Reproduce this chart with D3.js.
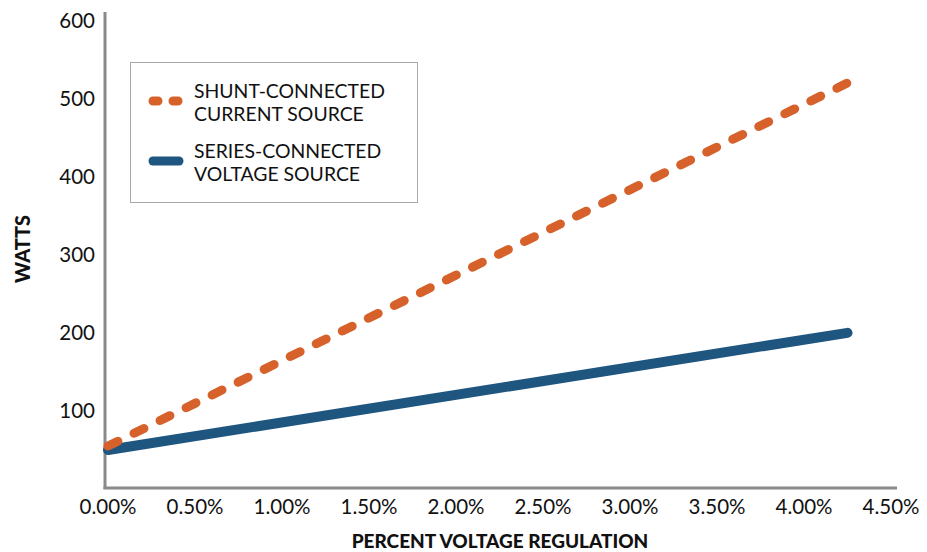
<!DOCTYPE html>
<html>
<head>
<meta charset="utf-8">
<script src="https://cdn.jsdelivr.net/npm/d3@7"></script>
<style>
  html,body{margin:0;padding:0;background:#fff;}
  text{font-family:Lato,'Open Sans',sans-serif;fill:#111;}
</style>
</head>
<body>
<div id="chart"></div>
<script>
// percent voltage regulation (x) vs watts (y)
const xVals = [0, 4.25];
const shunt = [55, 520];
const series = [50, 200];
const xTicks = [0, 0.5, 1, 1.5, 2, 2.5, 3, 3.5, 4, 4.5];
const yTicks = [100, 200, 300, 400, 500, 600];
const legendItems = [
  {lines:['SHUNT-CONNECTED','CURRENT SOURCE'], color:'#d6612a', dash:true},
  {lines:['SERIES-CONNECTED','VOLTAGE SOURCE'], color:'#1f5680', dash:false}
];

(function(){
  const W = 927, H = 552;
  const svg = d3.select('#chart').append('svg').attr('width',W).attr('height',H);

  const x = d3.scaleLinear().domain([0,4.5]).range([108,891]);
  const y = d3.scaleLinear().domain([0,600]).range([489,20.5]);

  // axes lines
  svg.append('line').attr('x1',105).attr('x2',105).attr('y1',12).attr('y2',489)
    .attr('stroke','#8a8a8a').attr('stroke-width',3);
  svg.append('line').attr('x1',103.5).attr('x2',897).attr('y1',488).attr('y2',488)
    .attr('stroke','#8a8a8a').attr('stroke-width',3);

  // tick labels
  svg.append('g').selectAll('text').data(yTicks).join('text')
    .attr('x',95).attr('y',d=>y(d)).attr('dy','0.36em').attr('text-anchor','end')
    .style('font-size','20.5px').text(d=>d);
  svg.append('g').selectAll('text').data(xTicks).join('text')
    .attr('x',d=>x(d)).attr('y',507).attr('dy','0.36em').attr('text-anchor','middle')
    .style('font-size','20.5px').text(d=>d3.format('.2f')(d)+'%');

  // axis titles
  svg.append('text').attr('x',500).attr('y',541).attr('dy','0.35em').attr('text-anchor','middle')
    .style('font-size','19px').style('font-weight','900').text('PERCENT VOLTAGE REGULATION');
  svg.append('text').attr('transform','translate(23,249) rotate(-90)').attr('dy','0.36em')
    .attr('text-anchor','middle').style('font-size','20px').style('font-weight','900').text('WATTS');

  const line = d3.line().x(d=>x(d[0])).y(d=>y(d[1]));

  svg.append('path').datum(xVals.map((v,i)=>[v,series[i]]))
    .attr('fill','none').attr('stroke','#1f5680').attr('stroke-width',10)
    .attr('stroke-linecap','round').attr('d',line);
  svg.append('path').datum(xVals.map((v,i)=>[v,shunt[i]]))
    .attr('fill','none').attr('stroke','#d6612a').attr('stroke-width',9)
    .attr('stroke-linecap','round').attr('stroke-dasharray','11,18').attr('d',line);

  // legend
  const lg = svg.append('g');
  lg.append('rect').attr('x',130.5).attr('y',62.5).attr('width',287).attr('height',140)
    .attr('fill','#fff').attr('stroke','#a8a8a8').attr('stroke-width',1);
  legendItems.forEach((s,i)=>{
    const cy = 101 + i*60;
    lg.append('line').attr('x1',153).attr('x2',179).attr('y1',cy).attr('y2',cy)
      .attr('stroke',s.color).attr('stroke-width',9).attr('stroke-linecap','round')
      .attr('stroke-dasharray',s.dash?'5,15':null);
    s.lines.forEach((t,j)=>{
      lg.append('text').attr('x',194).attr('y',cy-3+j*23)
        .style('font-size','19.4px').text(t);
    });
  });
})();
</script>
</body>
</html>
